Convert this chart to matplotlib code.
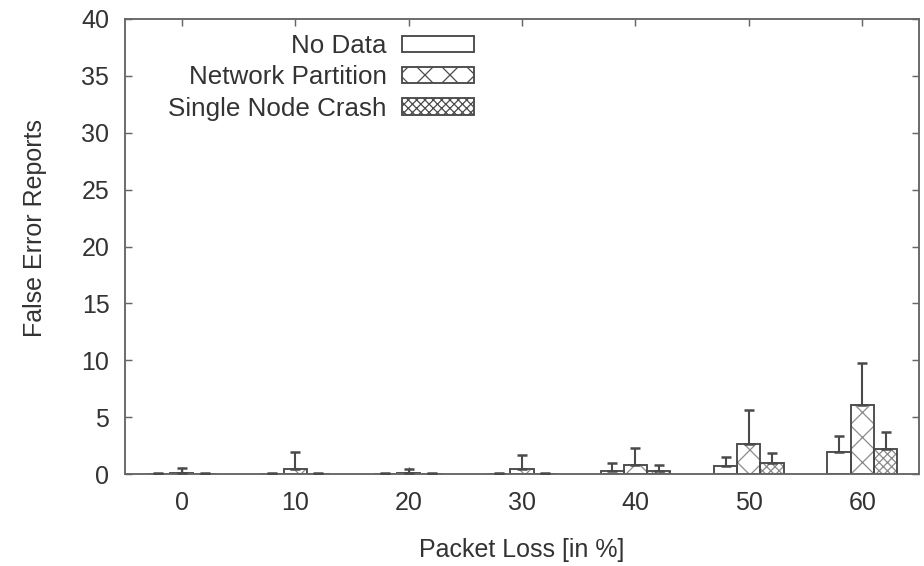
import matplotlib
matplotlib.use("Agg")
import matplotlib.pyplot as plt
import numpy as np

plt.rcParams['font.family'] = ['Liberation Sans', 'DejaVu Sans']
plt.rcParams['hatch.linewidth'] = 0.6

# Packet loss levels and mean false error reports with their error bars
loss = [0, 10, 20, 30, 40, 50, 60]
no_data = [0.0, 0.0, 0.0, 0.0, 0.3, 0.7, 1.9]
no_data_err = [0.1, 0.1, 0.1, 0.1, 0.7, 0.8, 1.4]
partition = [0.1, 0.4, 0.1, 0.4, 0.8, 2.6, 6.1]
partition_err = [0.4, 1.5, 0.3, 1.3, 1.5, 3.0, 3.7]
crash = [0.0, 0.0, 0.0, 0.0, 0.3, 0.95, 2.2]
crash_err = [0.1, 0.1, 0.1, 0.1, 0.5, 0.9, 1.5]

series = [
    ("No Data", no_data, no_data_err, ""),
    ("Network Partition", partition, partition_err, "xx"),
    ("Single Node Crash", crash, crash_err, "xxxxxx"),
]

line_col = "#4a4a4a"
hatch_col = "#8a8a8a"
text_col = "#333333"
fs = 12

fig = plt.figure(figsize=(9.24 / 1.5, 5.66 / 1.5), dpi=150)
ax = fig.add_axes([125 / 924, 92 / 566, 794 / 924, 455 / 566])

x = np.arange(len(loss))
width = 0.205
offsets = [-0.205, 0.0, 0.205]

handles = []
for (label, vals, errs, hatch), off in zip(series, offsets):
    pos = x + off
    # hatch fill in a lighter grey, outline drawn separately on top
    ax.bar(pos, vals, width, facecolor="white", edgecolor=hatch_col,
           linewidth=0, hatch=hatch, zorder=2)
    ax.bar(pos, vals, width, facecolor="none", edgecolor=line_col,
           linewidth=0.9, zorder=2.5)
    h = plt.Rectangle((0, 0), 1, 1, facecolor="white", edgecolor=line_col,
                      linewidth=0.9, hatch=hatch, label=label)
    handles.append(h)
    ax.errorbar(pos, vals, yerr=[np.zeros(len(vals)), errs], fmt="none",
                ecolor=line_col, elinewidth=1.0, capsize=2.2, capthick=1.2,
                zorder=3)

ax.set_xlim(-0.5, 6.5)
ax.set_ylim(0, 40)
ax.set_xticks(x)
ax.set_xticklabels([str(v) for v in loss])
ax.set_yticks(np.arange(0, 41, 5))

for side in ax.spines.values():
    side.set_color("#666666")
    side.set_linewidth(0.9)

ax.tick_params(axis="both", direction="in", length=3.5, width=0.7,
               colors="#666666", labelcolor=text_col, labelsize=fs,
               top=True, right=True)
ax.tick_params(axis="y", pad=7.5)
ax.tick_params(axis="x", pad=8)

ax.set_xlabel("Packet Loss [in %]", fontsize=fs, color=text_col, labelpad=11)
ax.set_ylabel("False Error Reports", fontsize=fs, color=text_col)
ax.yaxis.set_label_coords(-0.098, 0.54)

leg = fig.legend(handles=handles, loc="upper right",
                 bbox_to_anchor=(474 / 924, 532 / 566), frameon=False,
                 markerfirst=False, fontsize=12.5, handlelength=2.75,
                 handleheight=0.6, handletextpad=0.6, labelspacing=0.28,
                 borderpad=0, borderaxespad=0)
for t in leg.get_texts():
    t.set_color(text_col)

fig.savefig("out.png", dpi=150, facecolor="white")
